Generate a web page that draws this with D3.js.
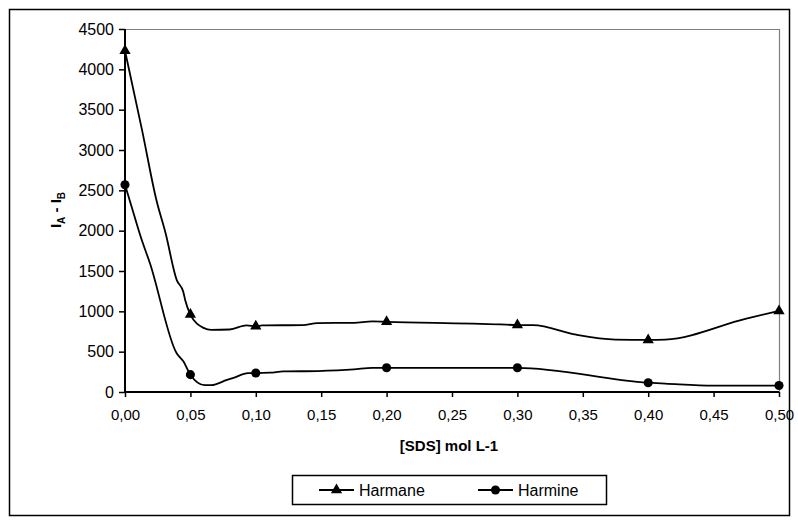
<!DOCTYPE html>
<html>
<head>
<meta charset="utf-8">
<script src="https://cdn.jsdelivr.net/npm/d3@7"></script>
<style>
  body { margin: 0; background: #fff; }
  text { font-family: "Liberation Sans", Arial, sans-serif; }
</style>
</head>
<body>
<div id="chart"></div>
<script>
// tick labels
const xTicks = [0, 0.05, 0.10, 0.15, 0.20, 0.25, 0.30, 0.35, 0.40, 0.45, 0.50];
const yTicks = [0, 500, 1000, 1500, 2000, 2500, 3000, 3500, 4000, 4500];

// measured points (markers)
const harmaneMarkers = [[0, 4230], [0.05, 960], [0.10, 815], [0.20, 870], [0.30, 830], [0.40, 645], [0.50, 1005]];
const harmineMarkers = [[0, 2570], [0.05, 215], [0.10, 235], [0.20, 300], [0.30, 300], [0.40, 115], [0.50, 80]];

// drawn line path
const harmaneLine = [[0, 4230], [0.013, 3250], [0.024, 2380], [0.031, 1970], [0.0395, 1390], [0.0446, 1240],
    [0.046, 1140], [0.05, 960], [0.06, 795], [0.066, 770], [0.08, 775], [0.093, 825], [0.10, 815],
    [0.105, 825], [0.136, 830], [0.147, 855], [0.175, 858], [0.189, 875], [0.20, 870], [0.287, 838],
    [0.30, 830], [0.312, 830], [0.345, 710], [0.375, 650], [0.40, 645], [0.413, 650], [0.475, 910], [0.50, 1005]];
const harmineLine = [[0, 2570], [0.005, 2300], [0.0127, 1890], [0.019, 1600], [0.0395, 480], [0.0446, 380],
    [0.05, 215], [0.061, 85], [0.066, 85], [0.078, 150], [0.083, 175], [0.094, 235], [0.10, 235],
    [0.111, 240], [0.121, 255], [0.147, 260], [0.175, 280], [0.189, 300], [0.20, 300], [0.30, 300],
    [0.40, 115], [0.413, 105], [0.45, 80], [0.50, 80]];

const W = 798, H = 523;
const margin = { top: 29, right: 19, bottom: 131, left: 125 },
    width = W - margin.left - margin.right,
    height = H - margin.top - margin.bottom;

const svg = d3.select("#chart")
    .append("svg")
    .attr("width", W)
    .attr("height", H);

// outer chart frame
svg.append("rect")
    .attr("x", 9.5).attr("y", 9.5)
    .attr("width", 780).attr("height", 506)
    .style("fill", "none").style("stroke", "#000").style("stroke-width", 1.5);

const g = svg.append("g")
    .attr("transform", `translate(${margin.left},${margin.top})`);

const x = d3.scaleLinear().domain([0, 0.5]).range([0, width]);
const y = d3.scaleLinear().domain([0, 4500]).range([height, 0]);

// plot area top/right edges (grey)
g.append("path")
    .attr("d", `M0,0.5H${width + 0.5}V${height}`)
    .style("fill", "none").style("stroke", "#808080").style("stroke-width", 1.2);

// axes
const fmt = d3.format(".2f");
const xAxis = g.append("g")
    .attr("transform", `translate(0,${height})`)
    .call(d3.axisBottom(x).tickValues(xTicks).tickSize(5).tickPadding(12)
        .tickFormat(d => fmt(d).replace(".", ",")));
const yAxis = g.append("g")
    .call(d3.axisLeft(y).tickValues(yTicks).tickSize(6).tickPadding(5)
        .tickFormat(d3.format("d")));

[xAxis, yAxis].forEach(a => {
    a.select(".domain").attr("stroke-width", 2);
    a.selectAll(".tick line").attr("stroke-width", 1.5);
    a.selectAll("text")
        .style("font-family", "'Liberation Sans', Arial, sans-serif")
        .style("fill", "#000");
});
xAxis.selectAll("text").style("font-size", "15px");
yAxis.selectAll("text").style("font-size", "16px");
xAxis.select(".domain").attr("d", `M0,0H${width}`);
yAxis.select(".domain").attr("d", `M0,${height}V0`);

// lines
const line = d3.line()
    .x(d => x(d[0]))
    .y(d => y(d[1]))
    .curve(d3.curveMonotoneX);

[harmaneLine, harmineLine].forEach(data => {
    g.append("path")
        .datum(data)
        .attr("d", line)
        .style("fill", "none")
        .style("stroke", "#000")
        .style("stroke-width", 1.8);
});

const tri = d3.symbol().type(d3.symbolTriangle).size(55);
const dot = d3.symbol().type(d3.symbolCircle).size(65);

g.selectAll(".harmane")
    .data(harmaneMarkers)
    .join("path")
    .attr("class", "harmane")
    .attr("transform", d => `translate(${x(d[0])},${y(d[1])})`)
    .attr("d", tri)
    .style("fill", "#000");

g.selectAll(".harmine")
    .data(harmineMarkers)
    .join("path")
    .attr("class", "harmine")
    .attr("transform", d => `translate(${x(d[0])},${y(d[1])})`)
    .attr("d", dot)
    .style("fill", "#000");

// axis titles
svg.append("text")
    .attr("x", 449).attr("y", 451)
    .style("text-anchor", "middle")
    .style("font-size", "15px").style("font-weight", "bold")
    .text("[SDS] mol L-1");

const yt = svg.append("text")
    .attr("transform", "translate(61,210) rotate(-90)")
    .style("text-anchor", "middle")
    .style("font-size", "15px").style("font-weight", "bold");
yt.append("tspan").text("I");
yt.append("tspan").attr("dy", 4).style("font-size", "10px").text("A");
yt.append("tspan").attr("dy", -4).text(" - I");
yt.append("tspan").attr("dy", 4).style("font-size", "10px").text("B");

// legend
const lg = svg.append("g").attr("transform", "translate(292,475)");
lg.append("rect")
    .attr("x", 0.5).attr("y", 0.5)
    .attr("width", 314).attr("height", 29)
    .style("fill", "#fff").style("stroke", "#000").style("stroke-width", 1.5);

const legendItems = [
    { name: "Harmane", sym: tri, x0: 27 },
    { name: "Harmine", sym: dot, x0: 186 }
];
legendItems.forEach(it => {
    lg.append("line")
        .attr("x1", it.x0).attr("x2", it.x0 + 35)
        .attr("y1", 15).attr("y2", 15)
        .style("stroke", "#000").style("stroke-width", 1.8);
    lg.append("path")
        .attr("transform", `translate(${it.x0 + 17.5},15)`)
        .attr("d", it.sym)
        .style("fill", "#000");
    lg.append("text")
        .attr("x", it.x0 + 40).attr("y", 21)
        .style("font-size", "16px")
        .text(it.name);
});
</script>
</body>
</html>
